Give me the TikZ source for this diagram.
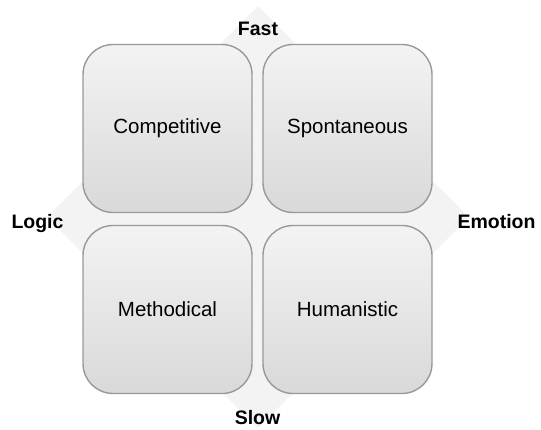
\documentclass[tikz,border=0pt]{standalone}
\usepackage{fontspec}
\setmainfont{Liberation Sans}
\begin{document}
\begin{tikzpicture}[x=1pt,y=-1pt,
  quad/.style={draw=boxline, line width=1.4pt, rounded corners=30pt,
    top color=boxtop, bottom color=boxbot, minimum width=169pt, minimum height=168pt,
    inner sep=0pt, font=\fontsize{20.5}{24}\selectfont},
  axislabel/.style={font=\fontsize{19.5}{23}\selectfont\bfseries, anchor=base, inner sep=0pt}]
\definecolor{boxline}{HTML}{999999}
\definecolor{boxtop}{HTML}{F3F3F3}
\definecolor{boxbot}{HTML}{D9D9D9}
\definecolor{diam}{HTML}{F3F3F3}
\useasboundingbox (0,0) rectangle (541,429);
\fill[diam] (258,6) -- (469,217) -- (258,428) -- (47,217) -- cycle;
\node[quad] (comp) at (167.5,128.5) {Competitive};
\node[quad] (spon) at (347.5,128.5) {Spontaneous};
\node[quad] (meth) at (167.5,309.5) {Methodical};
\node[quad] (huma) at (347.5,309.5) {Humanistic};
\node[axislabel] (fast) at (258,35) {Fast};
\node[axislabel] (logic) at (37.5,228) {Logic};
\node[axislabel] (emo) at (496.5,228) {Emotion};
\node[axislabel] (slow) at (257.5,424.5) {Slow};
\end{tikzpicture}
\end{document}
